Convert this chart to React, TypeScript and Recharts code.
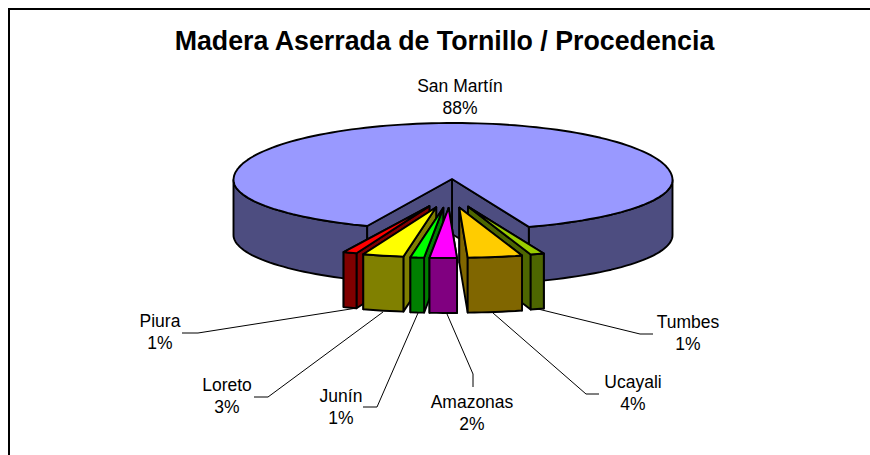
import { PieChart, Pie } from "recharts";

// clockwise order in the source sheet, reversed here so the left slices paint outward-in
const names = ["San Martín", "Piura", "Loreto", "Junín", "Amazonas", "Ucayali", "Tumbes"];
const shares = [88, 1, 3, 1, 2, 4, 1];
const topColors = ["#9999FF", "#FF0000", "#FFFF00", "#00FF00", "#FF00FF", "#FFCC00", "#99CC00"];
const sideColors = ["#4D4D80", "#800000", "#808000", "#008000", "#800080", "#806600", "#4D6600"];

const data = names.map((name, i) => ({ name, value: shares[i] }));

const FONT = "'Liberation Sans', Arial, sans-serif";
const DEPTH = 55;
const BACK_RY = 57;
const FRONT_RY = 50;
const EXPLODE_X = 57;
const EXPLODE_Y = 28;

const LABELS: Record<string, { x: number; y: number; leader?: number[][] }> = {
  "San Martín": { x: 460, y: 92 },
  Piura: { x: 160, y: 327, leader: [[182, 333], [198, 333], [357, 308]] },
  Loreto: { x: 227, y: 391, leader: [[254, 397], [268, 397], [383, 312]] },
  "Junín": { x: 341, y: 402, leader: [[363, 407], [377, 407], [418, 313]] },
  Amazonas: { x: 472, y: 408, leader: [[447, 314], [473, 374], [473, 387]] },
  Ucayali: { x: 633, y: 388, leader: [[493, 313], [586, 394], [599, 394]] },
  Tumbes: { x: 688, y: 328, leader: [[538, 309], [640, 334], [653, 334]] },
};

const rad = (a: number) => (a * Math.PI) / 180;
const toPath = (pts: number[][]) => "M" + pts.map((p) => `${p[0].toFixed(1)},${p[1].toFixed(1)}`).join("L") + "Z";

// rim point on the squashed ellipse, near side flatter than far side
function rim(x: number, y: number, rx: number, a: number) {
  const s = Math.sin(rad(a));
  return [x + rx * Math.cos(rad(a)), y - s * (s < 0 ? FRONT_RY : BACK_RY)];
}

function arc(x: number, y: number, rx: number, from: number, to: number) {
  const steps = Math.max(2, Math.ceil(Math.abs(to - from) / 2));
  const pts: number[][] = [];
  for (let i = 0; i <= steps; i++) pts.push(rim(x, y, rx, from + ((to - from) * i) / steps));
  return pts;
}

const drop = (pts: number[][]) => pts.map((p) => [p[0], p[1] + DEPTH]);
const stroke = { stroke: "#000", strokeWidth: 1.9, strokeLinejoin: "round" as const };

function MainSlice({ cx, cy, r, start, end }: any) {
  const top = sideColors[0];
  const apex = [cx - 1, cy - 1];
  const a = rim(cx, cy, r, start);
  const b = rim(cx, cy, r, end);
  const rightWall = arc(cx, cy, r, start, 0);
  const leftWall = arc(cx, cy, r, 180, end);
  const outer = (pts: number[][]) => toPath([...pts, ...drop(pts).reverse()]);
  return (
    <g {...stroke}>
      <path d={outer(rightWall)} fill={top} />
      <path d={outer(leftWall)} fill={top} />
      <path d={toPath([apex, a, [a[0], a[1] + DEPTH], [apex[0], apex[1] + DEPTH]])} fill={top} />
      <path d={toPath([apex, b, [b[0], b[1] + DEPTH], [apex[0], apex[1] + DEPTH]])} fill={top} />
      <path d={toPath([apex, ...arc(cx, cy, r, start, end)])} fill={topColors[0]} />
    </g>
  );
}

function ExplodedSlice({ cx, cy, r, start, end, mid, index }: any) {
  const x = cx - 3 + EXPLODE_X * Math.cos(rad(mid));
  const y = cy + EXPLODE_Y * Math.abs(Math.sin(rad(mid)));
  const apex = [x, y];
  const front = arc(x, y, r, start, end);
  const a = front[0];
  const b = front[front.length - 1];
  const side = sideColors[index];
  const wall = (p: number[]) => toPath([apex, p, [p[0], p[1] + DEPTH], [apex[0], apex[1] + DEPTH]]);
  const walls = mid < 270 ? [a, b] : [b, a];
  return (
    <g {...stroke}>
      <path d={wall(walls[0])} fill={side} />
      <path d={wall(walls[1])} fill={side} />
      <path d={toPath([...front, ...drop(front).reverse()])} fill={side} />
      <path d={toPath([apex, ...front])} fill={topColors[index]} />
    </g>
  );
}

function sliceShape(props: any, wanted: (i: number) => boolean) {
  const { cx, cy, outerRadius, startAngle, endAngle, midAngle, index } = props;
  if (!wanted(index)) return <g />;
  const geom = { cx, cy, r: outerRadius, start: startAngle, end: endAngle, mid: midAngle, index };
  return index === 0 ? <MainSlice {...geom} /> : <ExplodedSlice {...geom} />;
}

function renderLabel(props: any) {
  const { name, percent } = props;
  const spot = LABELS[name];
  return (
    <g>
      {spot.leader && (
        <polyline points={spot.leader.map((p) => p.join(",")).join(" ")} fill="none" stroke="#000" strokeWidth={1} />
      )}
      <text x={spot.x} y={spot.y} textAnchor="middle" fontFamily={FONT} fontSize={17.5} fill="#000">
        {name}
      </text>
      <text x={spot.x} y={spot.y + 22} textAnchor="middle" fontFamily={FONT} fontSize={17.5} fill="#000">
        {Math.round(percent * 100)}%
      </text>
    </g>
  );
}

export default function App() {
  const pieProps = {
    data,
    dataKey: "value",
    nameKey: "name",
    cx: 453,
    cy: 180,
    innerRadius: 0,
    outerRadius: 219.5,
    startAngle: -69.8,
    endAngle: 290.2,
    isAnimationActive: false,
  };
  return (
    <div style={{ position: "absolute", left: 0, top: 0, width: 870, height: 455, overflow: "hidden", background: "#fff" }}>
      <div style={{ position: "absolute", left: 8, top: 8, width: 862, height: 447, borderLeft: "2px solid #000", borderTop: "2px solid #000" }} />
      <div
        style={{
          position: "absolute",
          left: 0,
          width: 889,
          top: 26,
          textAlign: "center",
          fontFamily: FONT,
          fontWeight: "bold",
          fontSize: 26.75,
          lineHeight: "30px",
          color: "#000",
        }}
      >
        Madera Aserrada de Tornillo / Procedencia
      </div>
      <div style={{ position: "absolute", left: 0, top: 0 }}>
        <PieChart width={870} height={455} margin={{ top: 0, right: 0, bottom: 0, left: 0 }}>
          {/* Tumbes sits behind Ucayali, so it goes down in an earlier pass */}
          <Pie
            {...pieProps}
            label={false}
            labelLine={false}
            shape={(p: any) => sliceShape(p, (i) => i === 0 || i === 6)}
          />
          <Pie
            {...pieProps}
            label={renderLabel}
            labelLine={false}
            shape={(p: any) => sliceShape(p, (i) => i > 0 && i < 6)}
          />
        </PieChart>
      </div>
    </div>
  );
}
